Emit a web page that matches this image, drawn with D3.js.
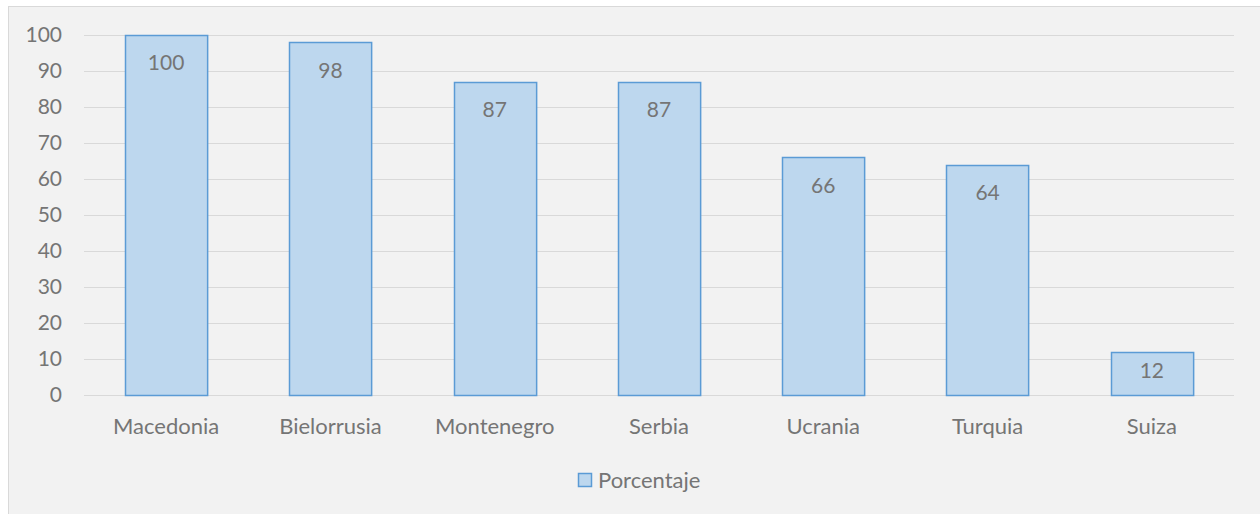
<!DOCTYPE html>
<html>
<head>
<meta charset="utf-8">
<script src="https://cdn.jsdelivr.net/npm/d3@7"></script>
<style>
  body { margin: 0; background: #fff; }
  text { font-family: Lato, "Open Sans", sans-serif; }
</style>
</head>
<body>
<div id="chart"></div>
<script>
const categories = ["Macedonia", "Bielorrusia", "Montenegro", "Serbia", "Ucrania", "Turquia", "Suiza"];
const porcentaje = [100, 98, 87, 87, 66, 64, 12];
const yTicks = [0, 10, 20, 30, 40, 50, 60, 70, 80, 90, 100];
const seriesName = "Porcentaje";

const width = 1260, height = 514;
const margin = {left: 84, right: 26, top: 35, bottom: 119};
const textColor = "#757575";
const fontSize = 22;
const numSize = 21;
const fontFamily = "Lato, 'Open Sans', sans-serif";

const svg = d3.select("#chart").append("svg")
    .attr("width", width)
    .attr("height", height);

// chart area
svg.append("rect")
    .attr("x", 8.5).attr("y", 6.5)
    .attr("width", width + 10).attr("height", height + 10)
    .attr("fill", "#f2f2f2")
    .attr("stroke", "#d9d9d9");

let x = d3.scaleBand()
    .domain(categories)
    .range([margin.left, width - margin.right])
    .paddingInner(0.5)
    .paddingOuter(0.25);

let y = d3.scaleLinear()
    .domain([0, 100])
    .range([height - margin.bottom, margin.top]);

// gridlines
svg.append("g")
    .selectAll("line")
    .data(yTicks)
    .enter()
    .append("line")
    .attr("x1", margin.left)
    .attr("x2", width - margin.right)
    .attr("y1", d => Math.round(y(d)) + 0.5)
    .attr("y2", d => Math.round(y(d)) + 0.5)
    .attr("stroke", "#d9d9d9")
    .attr("stroke-width", 1);

// y axis labels
let yAxis = svg.append("g")
    .attr("transform", "translate(" + (margin.left - 22) + ",0)")
    .call(d3.axisLeft(y).tickValues(yTicks).tickSize(0).tickPadding(0));
yAxis.select(".domain").remove();
yAxis.selectAll("text")
    .attr("fill", textColor)
    .attr("font-size", numSize)
    .attr("font-family", fontFamily);

// bars
svg.append("g")
    .selectAll("rect")
    .data(porcentaje)
    .enter()
    .append("rect")
    .attr("x", (d, i) => Math.round(x(categories[i])) + 0.5)
    .attr("y", d => Math.round(y(d)) + 0.5)
    .attr("width", x.bandwidth())
    .attr("height", d => y(0) - Math.round(y(d)))
    .attr("fill", "#bdd7ee")
    .attr("stroke", "#5b9bd5")
    .attr("stroke-width", 1.5);

// value labels
svg.append("g")
    .selectAll("text")
    .data(porcentaje)
    .enter()
    .append("text")
    .attr("x", (d, i) => x(categories[i]) + x.bandwidth() / 2)
    .attr("y", d => {
        let top = y(d), h = y(0) - y(d);
        return top + Math.min(28, h / 2 - 3);
    })
    .attr("dy", "0.35em")
    .attr("text-anchor", "middle")
    .attr("fill", textColor)
    .attr("font-size", numSize)
    .text(d => d);

// x axis labels
let xAxis = svg.append("g")
    .attr("transform", "translate(0," + (y(0) + 23) + ")")
    .call(d3.axisBottom(x).tickSize(0).tickPadding(0));
xAxis.select(".domain").remove();
xAxis.selectAll("text")
    .attr("fill", textColor)
    .attr("font-size", fontSize)
    .attr("font-family", fontFamily);

// legend
let legend = svg.append("g")
    .attr("transform", "translate(578,473)");
legend.append("rect")
    .attr("x", 0.5).attr("y", 0.5)
    .attr("width", 13).attr("height", 13)
    .attr("fill", "#bdd7ee")
    .attr("stroke", "#5b9bd5")
    .attr("stroke-width", 1.5);
legend.append("text")
    .attr("x", 20)
    .attr("y", 7)
    .attr("dy", "0.35em")
    .attr("fill", textColor)
    .attr("font-size", fontSize)
    .text(seriesName);
</script>
</body>
</html>
